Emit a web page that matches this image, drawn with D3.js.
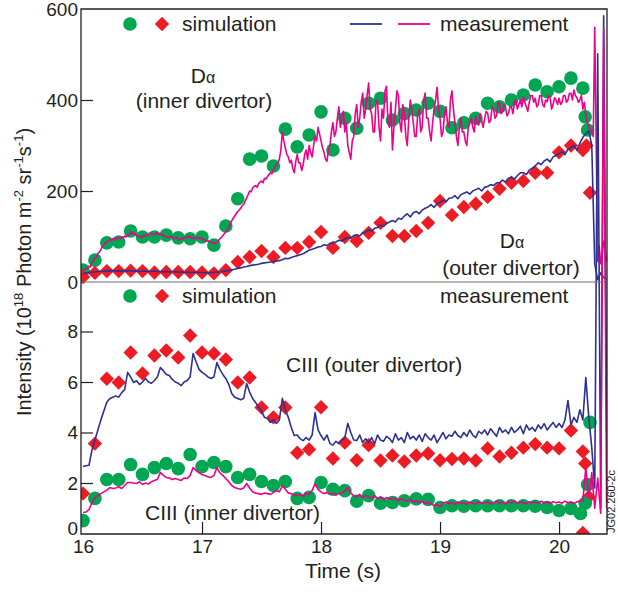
<!DOCTYPE html>
<html>
<head>
<meta charset="utf-8">
<script src="https://cdn.jsdelivr.net/npm/d3@7"></script>
<style>
  body { margin: 0; background: #fff; }
  text { font-family: "Liberation Sans", Arial, Helvetica, sans-serif; fill: #231f20; }
</style>
</head>
<body>
<svg id="chart" width="618" height="593"></svg>
<script>
// tick values
const timeTicks = [16, 17, 18, 19, 20];
const topTicks = [0, 200, 400, 600];
const botTicks = [0, 2, 4, 6, 8];

// D-alpha inner divertor, simulation (green circles, top)
const daInnerSimT = [16.0, 16.1, 16.2, 16.3, 16.4, 16.5, 16.6, 16.7, 16.8, 16.9,
  17.0, 17.1, 17.2, 17.3, 17.4, 17.5, 17.6, 17.7, 17.8, 17.9,
  18.0, 18.1, 18.2, 18.3, 18.4, 18.5, 18.6, 18.7, 18.8, 18.9,
  19.0, 19.1, 19.2, 19.3, 19.4, 19.5, 19.6, 19.7, 19.8, 19.9,
  20.0, 20.1, 20.2, 20.22, 20.24];
const daInnerSimV = [26, 48, 86, 88, 112, 99, 99, 103, 97, 95,
  99, 81, 123, 183, 270, 277, 255, 336, 297, 323,
  374, 290, 360, 338, 393, 404, 356, 370, 378, 393,
  375, 339, 350, 360, 393, 385, 400, 411, 433, 418,
  429, 448, 426, 363, 334];

// D-alpha outer divertor, simulation (red diamonds, top)
const daOuterSimT = [16.0, 16.1, 16.2, 16.3, 16.4, 16.5, 16.6, 16.7, 16.8, 16.9,
  17.0, 17.1, 17.2, 17.3, 17.4, 17.5, 17.6, 17.7, 17.8, 17.9,
  18.0, 18.1, 18.2, 18.3, 18.4, 18.5, 18.6, 18.7, 18.8, 18.9,
  19.0, 19.1, 19.2, 19.3, 19.4, 19.5, 19.6, 19.7, 19.8, 19.9,
  20.0, 20.1, 20.2, 20.23, 20.26];
const daOuterSimV = [11, 20, 24, 24, 25, 24, 21, 22, 22, 22,
  21, 19, 26, 44, 55, 68, 55, 75, 75, 88,
  110, 75, 99, 90, 108, 130, 101, 101, 112, 130,
  178, 147, 165, 172, 187, 205, 218, 222, 240, 240,
  285, 300, 290, 300, 196];

// CIII outer divertor, simulation (red diamonds, bottom)
const c3OuterSimT = [16.0, 16.1, 16.2, 16.3, 16.4, 16.5, 16.6, 16.7, 16.8, 16.9,
  17.0, 17.1, 17.2, 17.3, 17.4, 17.5, 17.6, 17.7, 17.8, 17.9,
  18.0, 18.1, 18.2, 18.3, 18.4, 18.5, 18.6, 18.7, 18.8, 18.9,
  19.0, 19.1, 19.2, 19.3, 19.4, 19.5, 19.6, 19.7, 19.8, 19.9,
  20.0, 20.1, 20.2, 20.22, 20.25, 20.2];
const c3OuterSimV = [1.58, 3.56, 6.13, 5.98, 7.17, 6.34, 7.05, 7.25, 6.97, 7.84,
  7.17, 7.13, 6.89, 5.98, 6.18, 4.99, 4.6, 4.99, 3.2, 3.33,
  5.0, 2.97, 3.6, 2.9, 3.5, 2.89, 3.09, 2.85, 3.09, 3.17,
  2.9, 2.95, 2.97, 2.89, 3.37, 3.05, 3.2, 3.4, 3.54, 3.4,
  3.37, 4.08, 3.25, 2.77, 1.45, 0.02];

// CIII inner divertor, simulation (green circles, bottom)
const c3InnerSimT = [16.0, 16.1, 16.2, 16.3, 16.4, 16.5, 16.6, 16.7, 16.8, 16.9,
  17.0, 17.1, 17.2, 17.3, 17.4, 17.5, 17.6, 17.7, 17.8, 17.9,
  18.0, 18.1, 18.2, 18.3, 18.4, 18.5, 18.6, 18.7, 18.8, 18.9,
  19.0, 19.1, 19.2, 19.3, 19.4, 19.5, 19.6, 19.7, 19.8, 19.9,
  20.0, 20.1, 20.18, 20.22, 20.24, 20.26];
const c3InnerSimV = [0.51, 1.39, 2.14, 2.14, 2.73, 2.34, 2.61, 2.77, 2.57, 3.13,
  2.65, 2.81, 2.65, 2.22, 2.34, 2.06, 1.9, 2.06, 1.39, 1.43,
  2.02, 1.75, 1.7, 1.28, 1.5, 1.2, 1.23, 1.3, 1.37, 1.35,
  1.03, 1.1, 1.08, 1.1, 1.1, 1.1, 1.1, 1.1, 1.08, 1.03,
  0.91, 0.99, 0.79, 1.2, 1.94, 4.4];

// measurement traces, all start at 16.0 s
const measStart = 16.0;

// D-alpha inner divertor measurement (magenta, top), every 0.0125 s
const daInnerStep = 0.0125;
const daInnerMeas = [
  28, 26, 31, 30, 35, 33, 44, 46, 53, 55, 63, 66, 71, 78, 81, 86,
  88, 90, 93, 91, 95, 93, 97, 95, 98, 96, 99, 97, 101, 99, 104, 103,
  110, 106, 109, 104, 103, 101, 100, 98, 99, 102, 101, 104, 104, 107, 106, 104,
  105, 108, 107, 104, 106, 102, 103, 100, 100, 98, 99, 100, 98, 95, 96, 98,
  95, 92, 94, 96, 96, 99, 98, 101, 99, 96, 97, 95, 96, 98, 97, 95,
  96, 94, 92, 90, 90, 88, 88, 85, 86, 84, 88, 91, 95, 98, 102, 106,
  110, 114, 120, 128, 135, 140, 145, 150, 155, 158, 162, 168, 170, 178, 185, 192,
  200, 198, 206, 210, 212, 208, 216, 220, 222, 218, 228, 226, 232, 236, 240, 238,
  248, 252, 258, 262, 270, 290, 330, 310, 295, 280, 275, 262, 268, 250, 240, 265,
  280, 262, 262, 245, 258, 280, 290, 270, 300, 285, 275, 300, 320, 310, 340, 325,
  310, 295, 285, 270, 265, 290, 300, 330, 350, 320, 330, 360, 385, 340, 360, 375,
  330, 350, 300, 285, 270, 310, 320, 370, 390, 340, 360, 395, 415, 360, 380, 410,
  437, 380, 370, 330, 330, 400, 395, 340, 310, 380, 360, 420, 430, 350, 340, 395,
  290, 340, 380, 420, 410, 350, 330, 390, 370, 320, 300, 360, 400, 380, 350, 320,
  320, 370, 380, 330, 340, 400, 415, 360, 360, 330, 310, 350, 380, 400, 428, 380,
  360, 320, 330, 370, 385, 350, 340, 400, 420, 380, 350, 320, 300, 340, 360, 330,
  330, 310, 300, 340, 350, 360, 340, 330, 365, 350, 345, 370, 355, 340, 360, 375,
  371, 350, 355, 385, 380, 360, 365, 395, 393, 370, 375, 390, 385, 365, 370, 385,
  385, 370, 395, 400, 380, 390, 400, 385, 407, 395, 385, 375, 395, 410, 410, 395,
  404, 385, 390, 410, 410, 390, 385, 400, 396, 410, 405, 380, 390, 405, 400, 390,
  404, 390, 395, 410, 410, 395, 400, 415, 415, 400, 422, 410, 405, 395, 400, 410,
  380, 395, 367, 350, 340, 335, 330, 320, 560, 300, 45, 80, 40, 60, 90, 70,
  45];

// the other three traces, every 0.025 s
const measStep = 0.025;

// D-alpha outer divertor measurement (blue, top)
const daOuterMeas = [
  18, 20, 21, 22, 22, 23, 23, 24,
  24, 25, 24, 25, 24, 24, 25, 24,
  25, 24, 24, 23, 24, 24, 23, 23,
  24, 23, 23, 22, 23, 22, 22, 23,
  22, 22, 21, 22, 21, 21, 22, 21,
  21, 21, 20, 21, 21, 22, 22, 23,
  24, 25, 27, 28, 30, 31, 33, 34,
  36, 37, 38, 39, 41, 42, 43, 44,
  45, 46, 47, 49, 52, 51, 54, 56,
  58, 60, 62, 66, 70, 72, 74, 77,
  78, 82, 80, 85, 86, 88, 92, 90,
  95, 98, 96, 102, 104, 101, 108, 110,
  114, 112, 118, 120, 125, 122, 128, 132,
  135, 132, 140, 138, 145, 150, 143, 152,
  155, 150, 158, 162, 165, 170, 164, 172,
  175, 180, 176, 184, 185, 190, 183, 192,
  195, 198, 193, 200, 203, 206, 200, 208,
  210, 214, 212, 218, 218, 224, 220, 228,
  230, 226, 234, 240, 240, 236, 246, 250,
  255, 262, 258, 266, 270, 264, 275, 278,
  282, 286, 280, 292, 295, 300, 290, 305,
  318, 326, 332, 300, 40, 5, 20, 10,
  5];

// CIII outer divertor measurement (blue, bottom)
const c3OuterMeas = [
  2.65, 2.68, 2.7, 3.3, 3.7, 4.1, 4.5, 4.85,
  5.2, 5.35, 5.4, 5.45, 5.4, 5.58, 5.7, 6.38,
  6.2, 5.98, 6.05, 5.9, 6.0, 6.14, 6.0, 5.95,
  6.06, 6.2, 6.57, 6.45, 6.3, 6.26, 6.1, 6.0,
  5.95, 5.86, 6.0, 6.06, 6.2, 7.13, 6.8, 6.5,
  6.38, 6.3, 6.2, 6.14, 6.2, 6.77, 6.5, 6.3,
  6.14, 5.9, 5.54, 5.4, 5.35, 5.3, 5.35, 5.94,
  5.6, 5.35, 5.19, 5.0, 4.85, 4.6, 4.55, 4.4,
  4.5, 4.36, 4.5, 5.35, 4.9, 4.6, 4.2, 3.88,
  3.9, 3.75, 3.68, 3.8, 3.7, 3.9, 4.79, 4.1,
  3.88, 3.7, 3.9, 3.56, 3.5, 3.65, 3.56, 3.7,
  3.8, 4.36, 4.0, 3.7, 3.68, 3.9, 3.6, 3.75,
  3.6, 3.8, 3.55, 3.9, 3.7, 3.65, 3.85, 3.76,
  3.6, 3.95, 3.7, 3.8, 3.6, 4.0, 3.75, 3.85,
  3.7, 3.9, 3.65, 3.95, 3.8, 3.7, 3.9, 3.6,
  3.8, 4.0, 3.75, 3.9, 3.85, 4.05, 3.88, 3.8,
  4.0, 3.85, 4.1, 3.9, 3.8, 4.05, 3.95, 4.1,
  3.9, 4.15, 4.0, 3.85, 4.2, 4.0, 4.1, 3.95,
  4.2, 4.0, 4.1, 4.25, 3.95, 4.3, 4.1, 4.2,
  4.05, 4.3, 4.15, 4.35, 4.1, 4.25, 4.4, 4.2,
  4.36, 4.2, 4.5, 5.27, 4.3, 4.6, 4.4, 4.9,
  4.5, 6.18, 4.6, 3.4, 1.8, 19, 1.0, 20.5,
  4];

// CIII inner divertor measurement (magenta, bottom)
const c3InnerMeas = [
  0.83, 0.85, 0.95, 1.2, 1.43, 1.5, 1.58, 1.65,
  1.72, 1.82, 1.78, 1.8, 1.85, 1.78, 1.9, 2.02,
  2.02, 2.0, 1.98, 2.05, 1.94, 2.0, 1.96, 2.05,
  2.1, 2.15, 2.42, 2.3, 2.22, 2.2, 2.14, 2.18,
  2.14, 2.1, 2.2, 2.18, 2.3, 2.61, 2.5, 2.4,
  2.34, 2.3, 2.25, 2.22, 2.3, 2.61, 2.4, 2.3,
  2.18, 2.05, 1.9, 1.82, 1.78, 1.75, 1.8, 1.98,
  1.8, 1.65, 1.6, 1.58, 1.55, 1.6, 1.58, 1.55,
  1.62, 1.7, 1.65, 1.9, 1.75, 1.6, 1.58, 1.52,
  1.5, 1.55, 1.48, 1.6, 1.55, 1.7, 1.98, 1.75,
  1.65, 1.58, 1.62, 1.55, 1.6, 1.52, 1.58, 1.6,
  1.7, 1.82, 1.6, 1.5, 1.45, 1.55, 1.42, 1.5,
  1.45, 1.4, 1.5, 1.38, 1.45, 1.35, 1.42, 1.39,
  1.35, 1.42, 1.3, 1.38, 1.32, 1.28, 1.35, 1.25,
  1.3, 1.22, 1.28, 1.19, 1.25, 1.18, 1.1, 1.15,
  1.05, 1.2, 1.25, 1.18, 1.22, 1.15, 1.25, 1.2,
  1.22, 1.15, 1.25, 1.2, 1.18, 1.26, 1.2, 1.22,
  1.25, 1.18, 1.22, 1.28, 1.2, 1.24, 1.18, 1.25,
  1.22, 1.28, 1.2, 1.25, 1.22, 1.18, 1.26, 1.22,
  1.25, 1.2, 1.28, 1.22, 1.25, 1.2, 1.26, 1.22,
  1.25, 1.2, 1.28, 1.22, 1.26, 1.2, 1.25, 1.3,
  1.3, 2.6, 1.4, 2.4, 1.0, 2.2, 0.8, 20,
  1.0];

const green = "#00a651", red = "#ed1c24", blue = "#2e3192", magenta = "#ec008c", ink = "#231f20";

const svg = d3.select("#chart");

let x = d3.scaleLinear().domain([15.983, 20.403]).range([81, 607]);
let yTop = d3.scaleLinear().domain([0, 600]).range([282, 9]);
let yBot = d3.scaleLinear().domain([0, 10]).range([533.5, 281]);

svg.append("defs").append("clipPath").attr("id", "plotClip")
  .append("rect").attr("x", 81).attr("y", 9).attr("width", 526).attr("height", 525);

const plot = svg.append("g").attr("clip-path", "url(#plotClip)");

function drawCircles(T, V, y) {
  plot.append("g").selectAll("circle")
    .data(d3.zip(T, V))
    .join("circle")
    .attr("cx", d => x(d[0]))
    .attr("cy", d => y(d[1]))
    .attr("r", 6.8)
    .attr("fill", green);
}
const diamond = "M0,-7.2L7.2,0L0,7.2L-7.2,0Z";
function drawDiamonds(T, V, y) {
  plot.append("g").selectAll("path")
    .data(d3.zip(T, V))
    .join("path")
    .attr("d", diamond)
    .attr("transform", d => `translate(${x(d[0])},${y(d[1])})`)
    .attr("fill", red);
}
function drawTrace(V, step, y, color) {
  let line = d3.line()
    .x((d, i) => x(measStart + i * step))
    .y(d => y(d));
  plot.append("path")
    .datum(V)
    .attr("fill", "none")
    .attr("stroke", color)
    .attr("stroke-width", 1.6)
    .attr("stroke-linejoin", "round")
    .attr("d", line);
}

// simulation markers first, measurements on top
drawCircles(daInnerSimT, daInnerSimV, yTop);
drawDiamonds(daOuterSimT, daOuterSimV, yTop);
drawDiamonds(c3OuterSimT, c3OuterSimV, yBot);
drawCircles(c3InnerSimT, c3InnerSimV, yBot);
drawTrace(daOuterMeas, measStep, yTop, blue);
drawTrace(daInnerMeas, daInnerStep, yTop, magenta);
drawTrace(c3OuterMeas, measStep, yBot, blue);
drawTrace(c3InnerMeas, measStep, yBot, magenta);

// frame
svg.append("line").attr("x1", 81).attr("x2", 607).attr("y1", 282).attr("y2", 282)
  .attr("stroke", "#6d6e71").attr("stroke-width", 1.2);
svg.append("path").attr("d", "M81,9H607V534H81Z")
  .attr("fill", "none").attr("stroke", ink).attr("stroke-width", 1.3);

// axes
function styleAxis(g, hide) {
  g.select(".domain").remove();
  g.selectAll(".tick line").attr("stroke", ink).attr("stroke-width", 1.2)
    .attr("opacity", d => hide.includes(d) ? 0 : 1);
  g.selectAll(".tick text").attr("fill", ink).style("font-size", "19px");
}
svg.append("g").attr("transform", "translate(81,0)")
  .call(d3.axisLeft(yTop).tickValues(topTicks).tickSize(-12).tickPadding(3))
  .call(g => styleAxis(g, [0, 600]));
svg.append("g").attr("transform", "translate(81,0)")
  .call(d3.axisLeft(yBot).tickValues(botTicks).tickSize(-12).tickPadding(3))
  .call(g => styleAxis(g, [0]))
  .call(g => g.selectAll(".tick text").filter(d => d === 0).attr("dy", "0.05em"));
svg.append("g").attr("transform", "translate(0,534)")
  .call(d3.axisBottom(x).tickValues(timeTicks).tickSize(-12).tickPadding(6).tickFormat(d3.format("d")))
  .call(g => styleAxis(g, [16]));

// legends
const leg = svg.append("g").style("font-size", "21px");
[24, 296].forEach(ly => {
  leg.append("circle").attr("cx", 130).attr("cy", ly).attr("r", 6.8).attr("fill", green);
  leg.append("path").attr("d", diamond).attr("transform", `translate(162,${ly})`).attr("fill", red);
  leg.append("text").attr("x", 182).attr("y", ly + 7).text("simulation");
  leg.append("text").attr("x", 440).attr("y", ly + 7).text("measurement");
});
leg.append("line").attr("x1", 350).attr("x2", 382).attr("y1", 24).attr("y2", 24)
  .attr("stroke", blue).attr("stroke-width", 1.8);
leg.append("line").attr("x1", 398).attr("x2", 430).attr("y1", 24).attr("y2", 24)
  .attr("stroke", magenta).attr("stroke-width", 1.8);

// annotations
const ann = svg.append("g").style("font-size", "21px");
function dAlpha(cx, by) {
  let t = ann.append("text").attr("x", cx).attr("y", by).attr("text-anchor", "middle");
  t.append("tspan").text("D");
  t.append("tspan").style("font-size", "16px").text("α");
}
dAlpha(203, 83);
ann.append("text").attr("x", 204).attr("y", 108).attr("text-anchor", "middle").text("(inner divertor)");
dAlpha(512, 248);
ann.append("text").attr("x", 511).attr("y", 275).attr("text-anchor", "middle").text("(outer divertor)");
ann.append("text").attr("x", 286).attr("y", 372).text("CIII (outer divertor)");
ann.append("text").attr("x", 145).attr("y", 520).text("CIII (inner divertor)");

// axis titles
svg.append("text").attr("x", 343).attr("y", 578).attr("text-anchor", "middle")
  .style("font-size", "21px").text("Time (s)");

let yl = svg.append("text").attr("transform", "translate(31,272) rotate(-90)")
  .attr("text-anchor", "middle").style("font-size", "20px");
yl.append("tspan").text("Intensity (10");
yl.append("tspan").attr("dy", -8).style("font-size", "13px").text("18");
yl.append("tspan").attr("dy", 8).text(" Photon m");
yl.append("tspan").attr("dy", -8).style("font-size", "13px").text("-2");
yl.append("tspan").attr("dy", 8).text(" sr");
yl.append("tspan").attr("dy", -8).style("font-size", "13px").text("-1");
yl.append("tspan").attr("dy", 8).text("s");
yl.append("tspan").attr("dy", -8).style("font-size", "13px").text("-1");
yl.append("tspan").attr("dy", 8).text(")");

svg.append("text").attr("transform", "translate(615,533) rotate(-90)")
  .style("font-size", "11px").text("JG02.260-2c");
</script>
</body>
</html>
